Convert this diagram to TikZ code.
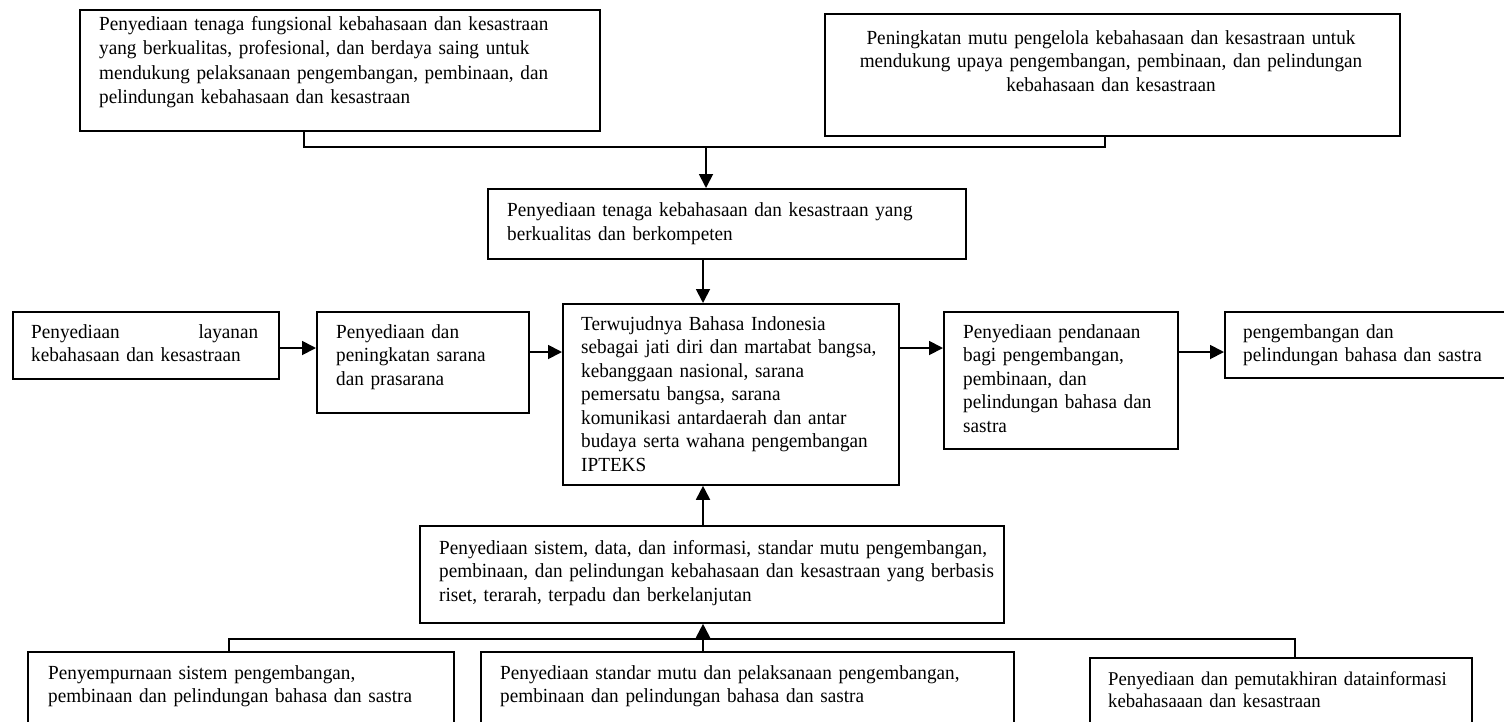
\documentclass[tikz,border=0pt]{standalone}
\usepackage{fontspec}
\setmainfont[FakeStretch=0.96]{Liberation Serif}
\usetikzlibrary{arrows.meta}
\begin{document}
\begin{tikzpicture}[x=1pt,y=-1pt,
  box/.style={draw, line width=1.8pt, inner sep=0pt, anchor=north west},
  txt/.style={inner sep=0pt, anchor=base west, align=left, font=\fontsize{20}{23.5}\selectfont},
  ln/.style={line width=1.8pt},
  arr/.style={line width=1.8pt, -{Triangle[length=14pt,width=14pt]}}]
\useasboundingbox (0,0) rectangle (1504,721);
\clip (0,0) rectangle (1504,721);
% boxes
\node[box, minimum width=520, minimum height=121] (A) at (79,9) {};
\node[box, minimum width=575, minimum height=122] (B) at (824,13) {};
\node[box, minimum width=478, minimum height=70] (C) at (487,188) {};
\node[box, minimum width=336, minimum height=181] (D) at (562,303) {};
\node[box, minimum width=266, minimum height=67] (L1) at (12,311) {};
\node[box, minimum width=212, minimum height=101] (L2) at (316,311) {};
\node[box, minimum width=234, minimum height=137] (R1) at (943,311) {};
\node[box, minimum width=300, minimum height=66] (R2) at (1224,311) {};
\node[box, minimum width=584, minimum height=97] (E) at (419,525) {};
\node[box, minimum width=426, minimum height=100] (BL) at (27,651) {};
\node[box, minimum width=533, minimum height=100] (BM) at (480,651) {};
\node[box, minimum width=382, minimum height=100] (BR) at (1089,657) {};
% texts
\node[txt, text width=540, font=\fontsize{20}{24.5}\selectfont] (tA) at (99,30)
  {Penyediaan tenaga fungsional kebahasaan dan kesastraan\\yang berkualitas, profesional, dan berdaya saing untuk\\mendukung pelaksanaan pengembangan, pembinaan, dan\\pelindungan kebahasaan dan kesastraan};
\node[txt, text width=600, align=center, anchor=base] (tB) at (1111,44)
  {Peningkatan mutu pengelola kebahasaan dan kesastraan untuk\\mendukung upaya pengembangan, pembinaan, dan pelindungan\\kebahasaan dan kesastraan};
\node[txt, text width=480, font=\fontsize{20}{24}\selectfont] (tC) at (507,216)
  {Penyediaan tenaga kebahasaan dan kesastraan yang\\berkualitas dan berkompeten};
\node[txt, text width=340] (tD) at (581,330)
  {Terwujudnya Bahasa Indonesia\\sebagai jati diri dan martabat bangsa,\\kebanggaan nasional, sarana\\pemersatu bangsa, sarana\\komunikasi antardaerah dan antar\\budaya serta wahana pengembangan\\IPTEKS};
\node[txt, text width=227] (tL1) at (31,338)
  {Penyediaan\hfill layanan\\kebahasaan dan kesastraan};
\node[txt, text width=220] (tL2) at (336,338)
  {Penyediaan dan\\peningkatan sarana\\dan prasarana};
\node[txt, text width=240] (tR1) at (963,338)
  {Penyediaan pendanaan\\bagi pengembangan,\\pembinaan, dan\\pelindungan bahasa dan\\sastra};
\node[txt, text width=300] (tR2) at (1243,338)
  {pengembangan dan\\pelindungan bahasa dan sastra};
\node[txt, text width=640] (tE) at (439,554)
  {Penyediaan sistem, data, dan informasi, standar mutu pengembangan,\\pembinaan, dan pelindungan kebahasaan dan kesastraan yang berbasis\\riset, terarah, terpadu dan berkelanjutan};
\node[txt, text width=440] (tBL) at (48,679)
  {Penyempurnaan sistem pengembangan,\\pembinaan dan pelindungan bahasa dan sastra};
\node[txt, text width=560] (tBM) at (500,679)
  {Penyediaan standar mutu dan pelaksanaan pengembangan,\\pembinaan dan pelindungan bahasa dan sastra};
\node[txt, text width=400, font=\fontsize{19.5}{22.5}\selectfont] (tBR) at (1108,685)
  {Penyediaan dan pemutakhiran datainformasi\\kebahasaaan dan kesastraan};
% connectors
\coordinate (ja) at (304,147);
\coordinate (jb) at (1105,147);
\coordinate (jm) at (706,147);
\coordinate (cd) at (703,400);
\draw[ln] (A.south -| ja) -- (ja) -- (jb) -- (B.south -| jb);
\draw[arr] (jm) -- (C.north -| jm);
\draw[arr] (C.south -| cd) -- (D.north -| cd);
\draw[arr] (E.north -| cd) -- (D.south -| cd);
\coordinate (jl) at (229,639);
\coordinate (jr) at (1295,639);
\draw[ln] (BL.north -| jl) -- (jl) -- (jr) -- (BR.north -| jr);
\draw[arr] (BM.north -| cd) -- (E.south -| cd);
\coordinate (h1) at (0,348);
\coordinate (h2) at (0,352);
\draw[arr] (L1.east |- h1) -- (L2.west |- h1);
\draw[arr] (L2.east |- h2) -- (D.west |- h2);
\draw[arr] (D.east |- h1) -- (R1.west |- h1);
\draw[arr] (R1.east |- h2) -- (R2.west |- h2);
\end{tikzpicture}
\end{document}
